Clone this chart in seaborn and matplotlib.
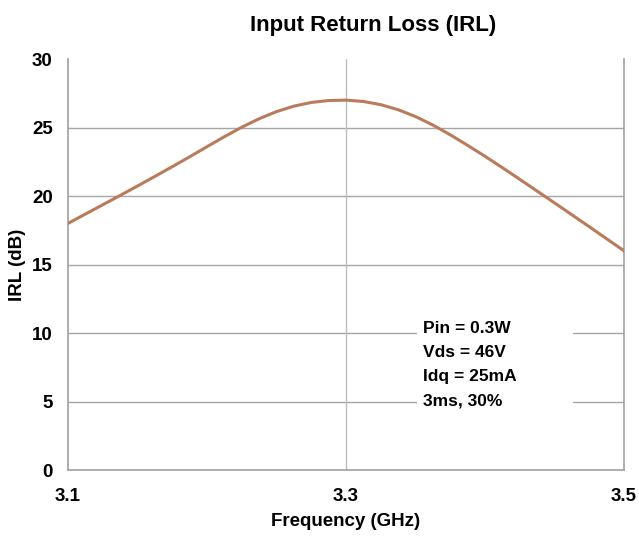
import matplotlib
matplotlib.use("Agg")
import matplotlib.pyplot as plt
from matplotlib.patches import Rectangle
import pandas as pd
import seaborn as sns

# values
freq_ghz = [3.1, 3.1125, 3.125, 3.1375, 3.15, 3.1625, 3.175, 3.1875, 3.2,
            3.2125, 3.225, 3.2375, 3.25, 3.2625, 3.275, 3.2875, 3.3,
            3.3125, 3.325, 3.3375, 3.35, 3.3625, 3.375, 3.3875, 3.4,
            3.4125, 3.425, 3.4375, 3.45, 3.4625, 3.475, 3.4875, 3.5]
irl_db = [18.0, 18.68, 19.36, 20.04, 20.73, 21.43, 22.14, 22.86, 23.6,
          24.33, 25.02, 25.64, 26.16, 26.56, 26.83, 26.97, 27.0,
          26.9, 26.67, 26.3, 25.8, 25.18, 24.47, 23.7, 22.9,
          22.07, 21.22, 20.36, 19.5, 18.63, 17.76, 16.88, 16.0]
x_ticks = [3.1, 3.3, 3.5]
y_ticks = [0, 5, 10, 15, 20, 25, 30]
notes = ["Pin = 0.3W", "Vds = 46V", "Idq = 25mA", "3ms, 30%"]

sns.set_style("white")
plt.rcParams['font.family'] = ['Liberation Sans', 'DejaVu Sans']
plt.rcParams['font.weight'] = 'bold'
plt.rcParams['text.color'] = 'black'
plt.rcParams['xtick.color'] = 'black'
plt.rcParams['ytick.color'] = 'black'
plt.rcParams['axes.labelcolor'] = 'black'

df = pd.DataFrame({"Frequency": freq_ghz, "IRL": irl_db})

fig = plt.figure(figsize=(6.39, 5.39), dpi=100)
ax = fig.add_axes([0.1064, 0.128, 0.8701, 0.7625])

sns.lineplot(data=df, x="Frequency", y="IRL", ax=ax, color="#B97B5B", linewidth=2.2, zorder=3)

ax.set_xlim(3.1, 3.5)
ax.set_ylim(0, 30)
ax.set_xticks(x_ticks)
ax.set_xticklabels([f"{t:.1f}" for t in x_ticks])
ax.set_yticks(y_ticks)
ax.tick_params(axis="x", length=0, pad=13, labelsize=13.5)
ax.tick_params(axis="y", length=0, pad=11, labelsize=13.5)

# grid: horizontal lines, single vertical at 3.3
for y in y_ticks[1:-1]:
    ax.axhline(y, color="#A6A6A6", linewidth=1.0, zorder=1)
ax.axvline(3.3, color="#BFBFBF", linewidth=1.0, zorder=1)

for side in ["left", "right", "bottom"]:
    ax.spines[side].set_color("#A0A0A0")
    ax.spines[side].set_linewidth(1.2)
ax.spines["top"].set_visible(False)

# white box behind the conditions text
ax.add_patch(Rectangle((3.351, 3.6), 0.1123, 8.0, facecolor="white", edgecolor="none", zorder=2))
ax.text(3.3554, 7.7, "\n".join(notes), fontsize=12.5, fontweight="bold",
        va="center", ha="left", linespacing=1.75, zorder=4)

ax.set_xlabel("Frequency (GHz)", fontsize=13.5, fontweight="bold", labelpad=6)
ax.set_ylabel("IRL (dB)", fontsize=13.5, fontweight="bold", labelpad=4)
fig.text(0.584, 0.953, "Input Return Loss (IRL)", fontsize=16, fontweight="bold",
         ha="center", va="center")

fig.savefig("out.png", dpi=100)
